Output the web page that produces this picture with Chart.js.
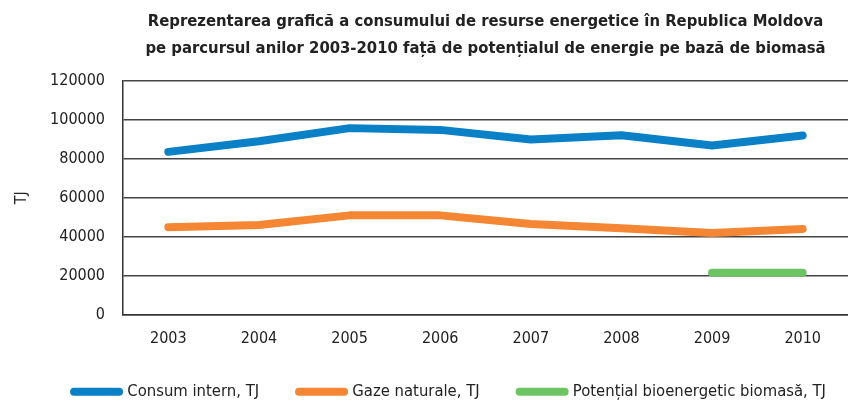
<!DOCTYPE html>
<html>
<head>
<meta charset="utf-8">
<script src="https://cdn.jsdelivr.net/npm/chart.js@4/dist/chart.umd.min.js"></script>
<style>
  body { margin: 0; background: #fff; }
  #wrap { width: 848px; height: 402px; }
</style>
</head>
<body>
<div id="wrap"><canvas id="energyChart" width="848" height="402"></canvas></div>
<script>
// Data
const years = ['2003', '2004', '2005', '2006', '2007', '2008', '2009', '2010'];
const consumIntern = [83500, 89000, 95700, 94800, 89900, 92000, 86800, 91900];
const gazeNaturale = [44800, 46000, 50900, 50900, 46500, 44300, 41900, 43900];
const biomasa = [null, null, null, null, null, null, 21500, 21500];
const yTicks = [0, 20000, 40000, 60000, 80000, 100000, 120000];

const fontFamily = '"DejaVu Sans Condensed", "Roboto", sans-serif';

function series(label, data, color) {
  return {
    label: label,
    data: data,
    borderColor: color,
    backgroundColor: color,
    borderWidth: 8,
    borderCapStyle: 'round',
    borderJoinStyle: 'round',
    pointRadius: 0,
    pointStyle: 'line',
    tension: 0,
    spanGaps: false
  };
}

// nudge the legend a bit to the right, like in the original
const legendShift = {
  id: 'legendShift',
  afterLayout(chart) {
    chart.legend.left += 22;
    chart.legend.right += 22;
  }
};

const ctx = document.getElementById('energyChart').getContext('2d');
const energyChart = new Chart(ctx, {
  type: 'line',
  data: {
    labels: years,
    datasets: [
      series('Consum intern, TJ', consumIntern, '#0a80c6'),
      series('Gaze naturale, TJ', gazeNaturale, '#f58634'),
      series('Potențial bioenergetic biomasă, TJ', biomasa, '#6cc463')
    ]
  },
  plugins: [legendShift],
  options: {
    responsive: false,
    animation: false,
    layout: { padding: { left: 8, right: 0, top: 0, bottom: -8 } },
    scales: {
      x: {
        offset: true,
        afterFit: s => { s.height = 29; },
        grid: { display: false, drawTicks: false },
        border: { display: true, color: '#333', width: 1.5 },
        ticks: { color: '#222', font: { family: fontFamily, size: 16 }, padding: 15 }
      },
      y: {
        min: 0,
        max: 120000,
        afterBuildTicks: axis => { axis.ticks = yTicks.map(v => ({ value: v })); },
        afterFit: s => { s.width = 115; },
        grid: { color: '#444', lineWidth: 1.5, drawTicks: false },
        border: { display: true, color: '#333', width: 1.5 },
        ticks: {
          color: '#222',
          font: { family: fontFamily, size: 16 },
          padding: 18,
          callback: v => String(v)
        },
        title: {
          display: true,
          text: 'TJ',
          color: '#222',
          font: { family: fontFamily, size: 16 },
          padding: { top: 4, bottom: 0 }
        }
      }
    },
    plugins: {
      title: {
        display: true,
        fullSize: false,
        text: [
          'Reprezentarea grafică a consumului de resurse energetice în Republica Moldova',
          'pe parcursul anilor 2003-2010 față de potențialul de energie pe bază de biomasă'
        ],
        color: '#222',
        font: { family: fontFamily, size: 16.5, weight: 'bold', lineHeight: 1.6 },
        padding: { top: 9, bottom: 19 },
        align: 'center'
      },
      legend: {
        position: 'bottom',
        labels: {
          usePointStyle: true,
          pointStyleWidth: 45,
          boxWidth: 45,
          boxHeight: 8,
          padding: 40,
          color: '#222',
          font: { family: fontFamily, size: 16.5 },
          generateLabels: chart => Chart.defaults.plugins.legend.labels.generateLabels(chart)
            .map(item => Object.assign(item, { lineCap: 'round' }))
        }
      },
      tooltip: { enabled: false }
    }
  }
});
</script>
</body>
</html>
